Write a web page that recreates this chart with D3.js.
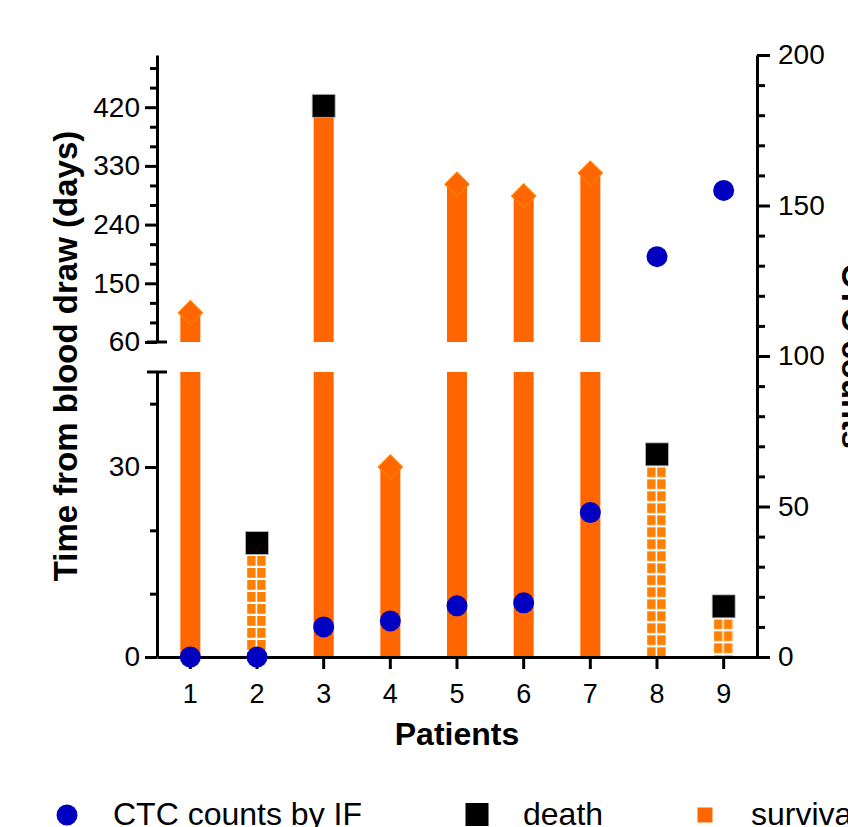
<!DOCTYPE html>
<html>
<head>
<meta charset="utf-8">
<script src="https://cdn.jsdelivr.net/npm/d3@7"></script>
<style>
  body { margin: 0; background: #fff; }
  svg { display: block; font-family: "Liberation Sans", Arial, sans-serif; }
</style>
</head>
<body>
<div id="chart"></div>
<script>
// data
const patients = ['1', '2', '3', '4', '5', '6', '7', '8', '9']
const days = [105, 18, 422, 30, 302, 284, 319, 32, 8]
const outcome = ['survival', 'death', 'death', 'survival', 'survival', 'survival', 'survival', 'death', 'death']
const barStyle = ['solid', 'grid', 'solid', 'solid', 'solid', 'solid', 'solid', 'grid', 'grid']
const ctcCounts = [0, 0, 10, 12, 17, 18, 48, 133, 155]

const upperTicks = [60, 150, 240, 330, 420]
const lowerTicks = [0, 30]
const rightTicks = [0, 50, 100, 150, 200]
const legendItems = ['CTC counts by IF', 'death', 'survival']

const W = 848, H = 827
const orange = '#ff6600', gridOrange = '#ff8000', blue = '#0000c0'

const svg = d3.select('#chart').append('svg')
    .attr('width', W)
    .attr('height', H)

const x = d3.scaleBand().domain(patients).range([157, 757])
const yLow = d3.scaleLinear().domain([0, 45]).range([657, 372])
const yUp = d3.scaleLinear().domain([60, 500]).range([342, 55])
const yR = d3.scaleLinear().domain([0, 200]).range([657, 55])

const barW = 20
const sqSide = 23

const rows = patients.map((p, i) => ({
    p: p, days: days[i], outcome: outcome[i], style: barStyle[i], ctc: ctcCounts[i]
}))

// grid pattern, one per hatched bar so the cells start right under the marker
const defs = svg.append('defs')
rows.filter(d => d.style === 'grid').forEach(d => {
    const top = yLow(d.days) + sqSide / 2 + 1.5
    const pat = defs.append('pattern')
        .attr('id', 'grid' + d.p)
        .attr('patternUnits', 'userSpaceOnUse')
        .attr('x', x(d.p) + x.bandwidth() / 2 - barW / 2)
        .attr('y', top)
        .attr('width', 10)
        .attr('height', 12)
    pat.append('rect').attr('x', 0.2).attr('y', 0).attr('width', 8.4).attr('height', 9.8).attr('fill', gridOrange)
})

// bars
const bars = svg.append('g')
rows.forEach(d => {
    const bx = x(d.p) + x.bandwidth() / 2 - barW / 2
    if (d.style === 'grid') {
        const top = yLow(d.days) + sqSide / 2 + 1.5
        bars.append('rect')
            .attr('x', bx).attr('y', top)
            .attr('width', barW).attr('height', yLow(0) - top)
            .attr('fill', 'url(#grid' + d.p + ')')
    } else if (d.days > 45) {
        bars.append('rect')
            .attr('x', bx).attr('y', yLow(45))
            .attr('width', barW).attr('height', yLow(0) - yLow(45))
            .attr('fill', orange)
        bars.append('rect')
            .attr('x', bx).attr('y', yUp(d.days))
            .attr('width', barW).attr('height', yUp(60) - yUp(d.days))
            .attr('fill', orange)
    } else {
        bars.append('rect')
            .attr('x', bx).attr('y', yLow(d.days))
            .attr('width', barW).attr('height', yLow(0) - yLow(d.days))
            .attr('fill', orange)
    }
})

// axes
function styleAxis(g, size) {
    g.selectAll('path.domain').attr('stroke', '#000').attr('stroke-width', 3)
    g.selectAll('.tick line').attr('stroke', '#000').attr('stroke-width', 3)
    g.selectAll('.tick text').attr('fill', '#000').style('font-size', size + 'px')
        .style('font-family', '"Liberation Sans", Arial, sans-serif')
}

const leftX = 157, rightX = 757

// left upper segment
const gUp = svg.append('g').attr('transform', `translate(${leftX},0)`)
    .call(d3.axisLeft(yUp).tickValues(upperTicks).tickSize(12).tickSizeOuter(0).tickPadding(5))
styleAxis(gUp, 28)
const gUpMinor = svg.append('g').attr('transform', `translate(${leftX},0)`)
    .call(d3.axisLeft(yUp).tickValues(d3.range(90, 500, 30).filter(v => !upperTicks.includes(v))).tickSize(7).tickFormat(''))
gUpMinor.select('path.domain').remove()
styleAxis(gUpMinor, 28)

// left lower segment
const gLow = svg.append('g').attr('transform', `translate(${leftX},0)`)
    .call(d3.axisLeft(yLow).tickValues(lowerTicks).tickSize(12).tickSizeOuter(0).tickPadding(5))
styleAxis(gLow, 28)
const gLowMinor = svg.append('g').attr('transform', `translate(${leftX},0)`)
    .call(d3.axisLeft(yLow).tickValues([10, 20, 40]).tickSize(7).tickFormat(''))
gLowMinor.select('path.domain').remove()
styleAxis(gLowMinor, 28)

// break caps
svg.append('g').selectAll('line')
    .data([yUp(60), yLow(45)])
    .join('line')
    .attr('x1', leftX - 10).attr('x2', leftX + 10)
    .attr('y1', d => d).attr('y2', d => d)
    .attr('stroke', '#000').attr('stroke-width', 3)

// right axis
const gR = svg.append('g').attr('transform', `translate(${rightX},0)`)
    .call(d3.axisRight(yR).tickValues(rightTicks).tickSize(13).tickSizeOuter(0).tickPadding(8))
styleAxis(gR, 28)
const gRMinor = svg.append('g').attr('transform', `translate(${rightX},0)`)
    .call(d3.axisRight(yR).tickValues(d3.range(10, 200, 10).filter(v => v % 50 !== 0)).tickSize(8).tickFormat(''))
gRMinor.select('path.domain').remove()
styleAxis(gRMinor, 28)

// x axis
const gX = svg.append('g').attr('transform', `translate(0,${yLow(0)})`)
    .call(d3.axisBottom(x).tickSize(12).tickSizeOuter(0).tickPadding(15))
styleAxis(gX, 27)

// markers
const markers = svg.append('g')
rows.forEach(d => {
    const cx = x(d.p) + x.bandwidth() / 2
    const cy = d.days > 45 ? yUp(d.days) : yLow(d.days)
    if (d.outcome === 'death') {
        markers.append('path')
            .attr('d', d3.symbol(d3.symbolSquare, sqSide * sqSide)())
            .attr('transform', `translate(${cx},${cy})`)
            .attr('fill', '#000').attr('stroke', '#bbb').attr('stroke-width', 0.8)
    } else {
        markers.append('path')
            .attr('d', d3.symbol(d3.symbolSquare, 290)())
            .attr('transform', `translate(${cx},${cy}) rotate(45)`)
            .attr('fill', orange).attr('stroke', gridOrange).attr('stroke-width', 1.2)
    }
})

// CTC counts
svg.append('g').selectAll('circle')
    .data(rows)
    .join('circle')
    .attr('cx', d => x(d.p) + x.bandwidth() / 2)
    .attr('cy', d => yR(d.ctc))
    .attr('r', 10.5)
    .attr('fill', blue)

// axis titles
svg.append('text')
    .attr('transform', `translate(77,${(yUp(500) + yLow(0)) / 2}) rotate(-90)`)
    .attr('text-anchor', 'middle')
    .style('font-size', '33px').style('font-weight', 'bold')
    .text('Time from blood draw (days)')

svg.append('text')
    .attr('transform', `translate(842,${(yR(0) + yR(200)) / 2}) rotate(90)`)
    .attr('text-anchor', 'middle')
    .style('font-size', '33px').style('font-weight', 'bold')
    .text('CTC counts')

svg.append('text')
    .attr('x', (leftX + rightX) / 2)
    .attr('y', 745)
    .attr('text-anchor', 'middle')
    .style('font-size', '32px').style('font-weight', 'bold')
    .text('Patients')

// legend
const legend = svg.append('g')
const legendX = [67, 477, 705]
legend.append('circle').attr('cx', legendX[0]).attr('cy', 815).attr('r', 10.5).attr('fill', blue)
legend.append('rect').attr('x', legendX[1] - 11.5).attr('y', 803).attr('width', 23).attr('height', 23).attr('fill', '#000')
legend.append('rect').attr('x', legendX[2] - 7.5).attr('y', 807.5).attr('width', 15).attr('height', 15).attr('fill', orange)
legend.selectAll('text')
    .data(legendItems)
    .join('text')
    .attr('x', (d, i) => legendX[i] + 46)
    .attr('y', 825)
    .style('font-size', '32px')
    .text(d => d)
</script>
</body>
</html>
